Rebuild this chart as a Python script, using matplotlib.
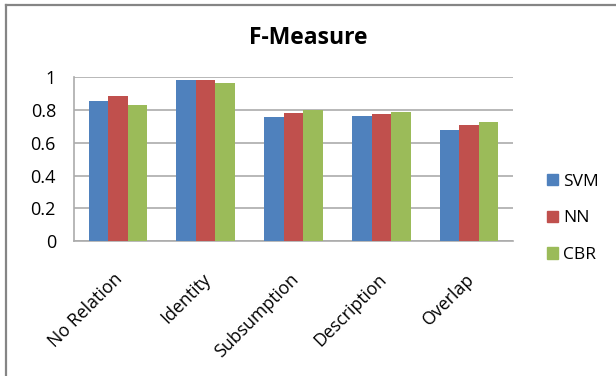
import matplotlib
matplotlib.use('Agg')
import matplotlib.pyplot as plt
import matplotlib.lines as mlines
import matplotlib.patches as mpatches
import matplotlib.transforms as mtransforms
import numpy as np

plt.rcParams['font.family'] = ['Open Sans', 'DejaVu Sans']

# F-measure per relation type for each classifier
categories = ['No Relation', 'Identity', 'Subsumption', 'Description', 'Overlap']
svm = [0.858, 0.984, 0.760, 0.766, 0.681]
nn = [0.888, 0.984, 0.779, 0.773, 0.706]
cbr = [0.833, 0.967, 0.801, 0.785, 0.726]
series = ['SVM', 'NN', 'CBR']
colors = ['#4F81BD', '#C0504D', '#9BBB59']

fig = plt.figure(figsize=(6.16, 3.76), dpi=100)
ax = fig.add_axes([74/616, 135/376, 439/616, 163.7/376])

x = np.arange(len(categories))
w = 0.222
for i, (vals, c) in enumerate(zip([svm, nn, cbr], colors)):
    ax.bar(x + (i - 1) * w, vals, width=w, color=c, zorder=3)

ax.set_xlim(-0.5, len(categories) - 0.5)
ax.set_ylim(0, 1)
ax.set_yticks([0, 0.2, 0.4, 0.6, 0.8, 1])
ax.set_yticklabels(['0', '0.2', '0.4', '0.6', '0.8', '1'])
ax.yaxis.grid(True, color='#ababab', linewidth=1.2, zorder=0)
ax.tick_params(axis='y', length=0, pad=13, labelsize=13)
ax.tick_params(axis='x', length=0, pad=21, labelsize=12.8)
ax.set_xticks(x)
ax.set_xticklabels(categories, rotation=45, ha='right', rotation_mode='anchor')
# nudge the slanted category labels a little to the left
shift = mtransforms.ScaledTranslation(-4/100, 0, fig.dpi_scale_trans)
for lbl in ax.get_xticklabels():
    lbl.set_transform(lbl.get_transform() + shift)
for side in ['top', 'right']:
    ax.spines[side].set_visible(False)
for side in ['left', 'bottom']:
    ax.spines[side].set_color('#ababab')
    ax.spines[side].set_linewidth(1.2)

fig.text(0.5, 1 - 38/376, 'F-Measure', ha='center', va='center',
         fontsize=16.5, fontweight='bold')

handles = [mpatches.Patch(color=c, label=s) for s, c in zip(series, colors)]
fig.legend(handles=handles, loc='center left', bbox_to_anchor=(546.5/616, 1 - 218.5/376),
           frameon=False, fontsize=12.5, handlelength=0.65, handleheight=0.65,
           handletextpad=0.3, labelspacing=1.2, borderaxespad=0, borderpad=0)

# outer chart frame (top and left edges)
fig.add_artist(mlines.Line2D([5.5/616, 5.5/616], [0, 1 - 5/376], color='#858585',
                             linewidth=1.6, transform=fig.transFigure))
fig.add_artist(mlines.Line2D([5.5/616, 1], [1 - 5/376, 1 - 5/376], color='#858585',
                             linewidth=1.6, transform=fig.transFigure))

fig.savefig('out.png', dpi=100)
